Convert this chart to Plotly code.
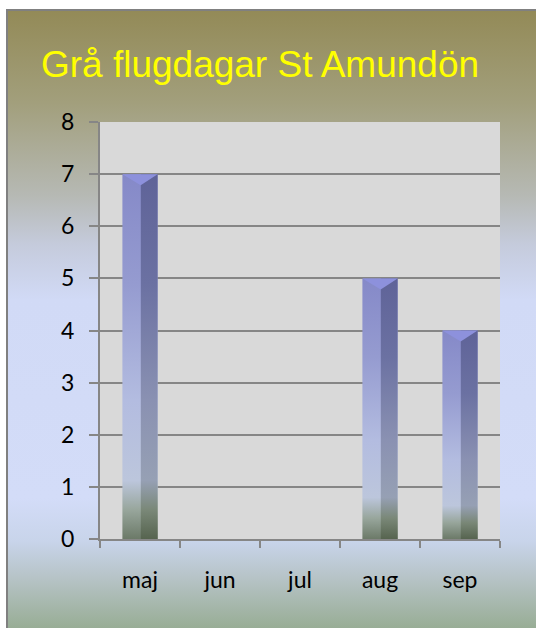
import base64
import plotly.graph_objects as go

months = ["maj", "jun", "jul", "aug", "sep"]
grey_fly_days = [7, 0, 0, 5, 4]
y_ticks = [0, 1, 2, 3, 4, 5, 6, 7, 8]
title_text = "Grå flugdagar St Amundön"

W, H = 536, 628
L, R, T, B = 100, 36, 122, 89
pw, ph = W - L - R, H - T - B

# background gradient as an SVG image
stops = [
    (0.00, "#938a57"), (0.15, "#a29f7c"), (0.30, "#b6b9b4"), (0.38, "#c5cbdc"),
    (0.47, "#d1daf6"), (0.79, "#d3dcf8"), (0.86, "#c8d4ea"), (0.92, "#b6c3c6"),
    (1.00, "#98ad95"),
]
stop_xml = "".join(f'<stop offset="{o}" stop-color="{c}"/>' for o, c in stops)
svg = ('<svg xmlns="http://www.w3.org/2000/svg" width="100" height="100" preserveAspectRatio="none">'
       '<defs><linearGradient id="g" x1="0" y1="0" x2="0" y2="1">' + stop_xml +
       '</linearGradient></defs><rect width="100" height="100" fill="url(#g)"/></svg>')
bg_src = "data:image/svg+xml;base64," + base64.b64encode(svg.encode()).decode()

fx0, fy0 = 7, 10
img_x = (fx0 - L) / pw
img_y = (H - B - fy0) / ph
img_w = (W - fx0) / pw
img_h = (H - fy0) / ph

fig = go.Figure()
fig.add_trace(go.Bar(x=months, y=grey_fly_days, width=0.44, offset=-0.22, name="face",
                     marker=dict(color="#9da2d3", line=dict(width=0)), hoverinfo="skip"))
fig.add_trace(go.Bar(x=months, y=grey_fly_days, width=0.21, offset=0.01, name="side",
                     marker=dict(color="#7479a9", line=dict(width=0)), hoverinfo="skip"))

fig.update_layout(
    width=W, height=H,
    margin=dict(l=L, r=R, t=T, b=B),
    paper_bgcolor="white",
    plot_bgcolor="#d9d9d9",
    barmode="overlay",
    showlegend=False,
    title=dict(text=title_text, x=260 / W, xanchor="center", y=1 - 64 / H, yanchor="middle",
               font=dict(family="Liberation Sans, Arial", size=37, color="#ffff00")),
    images=[dict(source=bg_src, xref="paper", yref="paper", x=img_x, y=img_y,
                 sizex=img_w, sizey=img_h, xanchor="left", yanchor="top",
                 sizing="stretch", layer="below")],
    shapes=[
        dict(type="rect", xref="paper", yref="paper", x0=img_x, y0=img_y - img_h - 0.05,
             x1=img_x + img_w + 0.05, y1=img_y, line=dict(color="#808080", width=2),
             fillcolor="rgba(0,0,0,0)", layer="below"),
        dict(type="rect", xref="paper", yref="paper", x0=0, y0=0, x1=1, y1=1,
             line=dict(width=0), fillcolor="#d9d9d9", layer="below"),
    ],
    font=dict(family="Lato, sans-serif", color="black"),
)
fig.update_xaxes(
    type="category", tickson="boundaries", ticks="outside", ticklen=7, tickwidth=1.5,
    tickcolor="#868686", showline=True, linecolor="#868686", linewidth=2,
    showgrid=False, tickfont=dict(size=23, color="black"), ticklabelstandoff=19,
    range=[-0.5, 4.5],
)
fig.update_yaxes(
    range=[0, 8], tickvals=y_ticks, ticks="outside", ticklen=9, tickwidth=1.5,
    tickcolor="#868686", showline=True, linecolor="#868686", linewidth=2,
    showgrid=True, gridcolor="#868686", gridwidth=1.5, zeroline=False,
    tickfont=dict(size=23, color="black"), ticklabelstandoff=10,
)

# page without margins/scrollbars, vertical shading of the bars and a bevelled top (style only)
post = """
document.documentElement.style.overflow = 'hidden';
document.body.style.overflow = 'hidden';
document.body.style.margin = '0';
var gd = document.getElementsByClassName('plotly-graph-div')[0];
function shade(){
  var svg = gd.querySelector('.main-svg');
  var defs = svg.querySelector('defs');
  var NS = 'http://www.w3.org/2000/svg';
  function grad(id, stops){
    if (document.getElementById(id)) return;
    var g = document.createElementNS(NS, 'linearGradient');
    g.setAttribute('id', id); g.setAttribute('x1','0'); g.setAttribute('y1','0');
    g.setAttribute('x2','0'); g.setAttribute('y2','1');
    stops.forEach(function(s){
      var st = document.createElementNS(NS, 'stop');
      st.setAttribute('offset', s[0]); st.setAttribute('stop-color', s[1]);
      g.appendChild(st);
    });
    defs.appendChild(g);
  }
  grad('barface', [[0,'#8589c8'],[0.3,'#959bd0'],[0.62,'#b3bce0'],[0.84,'#bcc6dc'],[0.92,'#98a69c'],[1,'#6c7a68']]);
  grad('barside', [[0,'#5f6398'],[0.3,'#6b71a2'],[0.62,'#8a91b2'],[0.84,'#96a0b4'],[0.92,'#7a8878'],[1,'#56644f']]);
  var traces = gd.querySelectorAll('.barlayer .trace.bars');
  traces.forEach(function(t, i){
    t.querySelectorAll('.point path').forEach(function(p){
      p.style.fill = 'url(#' + (i === 0 ? 'barface' : 'barside') + ')';
    });
  });
  var side = traces[1];
  if (!side) return;
  side.querySelectorAll('.bevel').forEach(function(e){ e.remove(); });
  traces[0].querySelectorAll('.point path').forEach(function(p){
    var b = p.getBBox();
    if (b.height < 12) return;
    var xc = b.x + b.width * 0.52, d = 11;
    var tri = document.createElementNS(NS, 'path');
    tri.setAttribute('class', 'bevel');
    tri.setAttribute('d', 'M' + b.x + ',' + b.y + 'L' + (b.x + b.width) + ',' + b.y +
                     'L' + xc + ',' + (b.y + d) + 'Z');
    tri.style.fill = '#8d91dc';
    side.appendChild(tri);
  });
}
shade();
gd.on('plotly_afterplot', shade);
"""
fig.write_html("out.html", post_script=post, config={"displayModeBar": False})
